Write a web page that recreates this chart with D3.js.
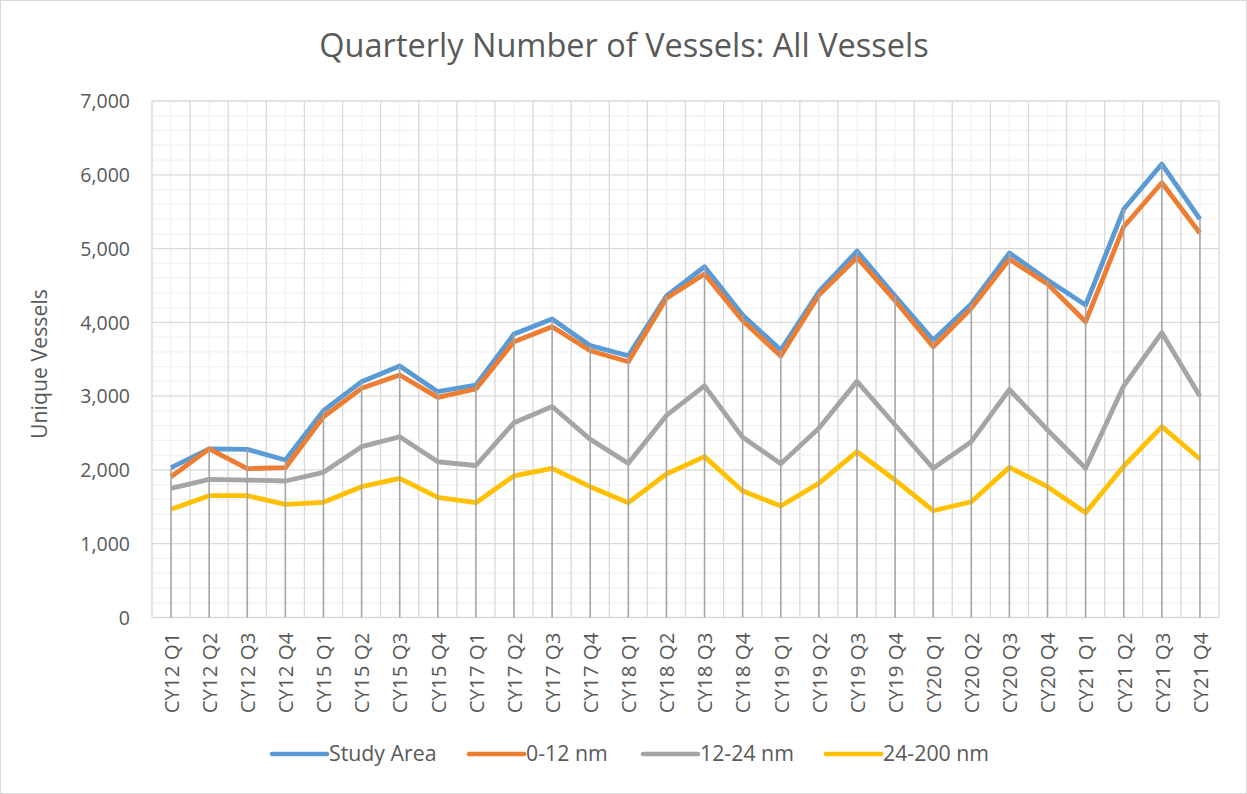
<!DOCTYPE html>
<html>
<head>
<meta charset="utf-8">
<script src="https://cdn.jsdelivr.net/npm/d3@7/dist/d3.min.js"></script>
<style>
  body { margin: 0; background: #fff; }
  svg { display: block; }
  text { font-family: "Open Sans", "Liberation Sans", sans-serif; fill: #595959; }
</style>
</head>
<body>
<svg id="chart" width="1247" height="794"></svg>
<script>
const categories = [
  "CY12 Q1","CY12 Q2","CY12 Q3","CY12 Q4",
  "CY15 Q1","CY15 Q2","CY15 Q3","CY15 Q4",
  "CY17 Q1","CY17 Q2","CY17 Q3","CY17 Q4",
  "CY18 Q1","CY18 Q2","CY18 Q3","CY18 Q4",
  "CY19 Q1","CY19 Q2","CY19 Q3","CY19 Q4",
  "CY20 Q1","CY20 Q2","CY20 Q3","CY20 Q4",
  "CY21 Q1","CY21 Q2","CY21 Q3","CY21 Q4"
];
const studyArea = [2030,2285,2279,2134,2803,3196,3408,3060,3151,3842,4045,3684,3548,4357,4754,4099,3625,4415,4965,4357,3761,4249,4940,4574,4235,5532,6146,5400];
const nm0to12   = [1908,2285,2017,2030,2721,3106,3286,2984,3097,3738,3941,3616,3467,4326,4655,4022,3544,4370,4880,4294,3670,4190,4854,4520,4009,5296,5892,5207];
const nm12to24  = [1751,1873,1863,1850,1967,2315,2450,2111,2060,2640,2860,2415,2089,2738,3140,2442,2085,2564,3200,2609,2022,2383,3090,2541,2022,3140,3860,3000];
const nm24to200 = [1466,1651,1651,1534,1561,1773,1886,1629,1556,1920,2022,1773,1556,1945,2180,1714,1511,1818,2247,1863,1447,1569,2035,1773,1420,2050,2586,2148];
const seriesNames = ["Study Area","0-12 nm","12-24 nm","24-200 nm"];
const seriesColors = ["#5b9bd5","#ed7d31","#a5a5a5","#ffc000"];
const yTicks = [0,1000,2000,3000,4000,5000,6000,7000];
const chartTitle = "Quarterly Number of Vessels: All Vessels";
const yTitle = "Unique Vessels";

const series = [studyArea, nm0to12, nm12to24, nm24to200];

const svg = d3.select("#chart");
const W = 1247, H = 794;
const pLeft = 152, pRight = 1219, pTop = 101, pBottom = 617.5;

svg.append("rect").attr("x",0.5).attr("y",0.5).attr("width",W-1).attr("height",H-1)
  .attr("fill","#fff").attr("stroke","#d9d9d9");

const x = d3.scaleBand().domain(categories).range([pLeft,pRight]).padding(0);
const bw = x.bandwidth();
const cx = c => x(c) + bw/2;
const y = d3.scaleLinear().domain([0,7000]).range([pBottom, pTop]);

const g = svg.append("g");

// minor horizontal grid
const minorY = d3.range(0, 7001, 200).filter(v => v % 1000 !== 0);
g.selectAll(".mh").data(minorY).enter().append("line")
  .attr("x1",pLeft).attr("x2",pRight).attr("y1",d=>y(d)).attr("y2",d=>y(d))
  .attr("stroke","#f2f2f2").attr("stroke-width",1.3);
// minor vertical grid at centers
g.selectAll(".mv").data(categories).enter().append("line")
  .attr("x1",d=>cx(d)).attr("x2",d=>cx(d)).attr("y1",pTop).attr("y2",pBottom)
  .attr("stroke","#f2f2f2").attr("stroke-width",1.3);
// major horizontal grid
g.selectAll(".Mh").data(yTicks).enter().append("line")
  .attr("x1",pLeft).attr("x2",pRight).attr("y1",d=>y(d)).attr("y2",d=>y(d))
  .attr("stroke","#d9d9d9").attr("stroke-width",1.3);
// major vertical grid at band boundaries
const bounds = categories.map(c => x(c)).concat([pRight]);
g.selectAll(".Mv").data(bounds).enter().append("line")
  .attr("x1",d=>d).attr("x2",d=>d).attr("y1",pTop).attr("y2",pBottom)
  .attr("stroke","#d9d9d9").attr("stroke-width",1.3);

// y axis labels
const yAxis = d3.axisLeft(y).tickValues(yTicks).tickFormat(d3.format(",")).tickSize(0).tickPadding(0);
const ya = svg.append("g").attr("transform",`translate(130,0)`).call(yAxis);
ya.select(".domain").remove();
ya.attr("font-family",null).attr("font-size",null);
ya.selectAll("text").style("font-size","19.5px").attr("fill","#595959").attr("dy","0.35em");

// x axis labels
const xAxis = d3.axisBottom(x).tickSize(0).tickPadding(0);
const xa = svg.append("g").attr("transform",`translate(0,${pBottom})`).call(xAxis);
xa.select(".domain").remove();
xa.attr("font-family",null).attr("font-size",null);
xa.selectAll("text")
  .style("font-size","20.5px").attr("fill","#595959")
  .attr("text-anchor","end")
  .attr("transform","translate(0,15) rotate(-90)")
  .attr("x",0).attr("y",0).attr("dy","0.38em");

// series lines
const line = d3.line().x((d,i)=>cx(categories[i])).y(d=>y(d));
series.forEach((s,k) => {
  svg.append("path").datum(s)
    .attr("d", line)
    .attr("fill","none")
    .attr("stroke", seriesColors[k])
    .attr("stroke-width", 4.8)
    .attr("stroke-linejoin","round")
    .attr("stroke-linecap","butt");
});

// drop lines from highest point to axis
svg.selectAll(".drop").data(categories).enter().append("line")
  .attr("x1",d=>cx(d)).attr("x2",d=>cx(d))
  .attr("y1",(d,i)=>y(d3.max(series, s=>s[i])))
  .attr("y2",pBottom)
  .attr("stroke","#a6a6a6").attr("stroke-width",1.6);

// title
svg.append("text").attr("x",624).attr("y",57).attr("text-anchor","middle")
  .style("font-size","32.5px").text(chartTitle);

// y title
svg.append("text").attr("transform","translate(47,364) rotate(-90)")
  .attr("text-anchor","middle").style("font-size","21.3px").text(yTitle);

// legend
const legendX = [272, 469, 643, 826];
const leg = svg.append("g");
seriesNames.forEach((n,k) => {
  leg.append("line").attr("x1",legendX[k]).attr("x2",legendX[k]+55)
    .attr("y1",754).attr("y2",754)
    .attr("stroke",seriesColors[k]).attr("stroke-width",4.5).attr("stroke-linecap","round");
  leg.append("text").attr("x",legendX[k]+57).attr("y",754).attr("dy","0.35em")
    .style("font-size","21.3px").text(n);
});
</script>
</body>
</html>
